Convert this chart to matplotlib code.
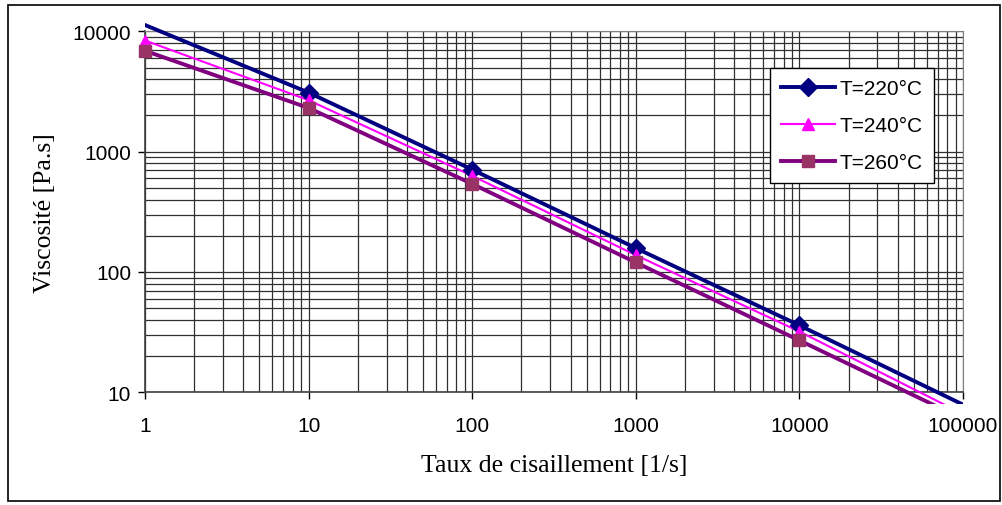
import numpy as np
import matplotlib
matplotlib.use('Agg')
import matplotlib.pyplot as plt
from matplotlib.patches import Rectangle
from matplotlib.ticker import FixedLocator, LogLocator, NullFormatter

# data
shear = [1, 10, 100, 1000, 10000, 100000]
visc_220 = [11300, 3100, 710, 158, 36, 7.9]
visc_240 = [8400, 2680, 630, 138, 32, 6.6]
visc_260 = [6900, 2310, 540, 120, 27, 6.0]
y_max = 10000
x_marker_max = 10000

series = [
    ('T=220°C', visc_220, '#000080', '#000080', 'D', 9, 2.8),
    ('T=240°C', visc_240, '#FF00FF', '#FF00FF', '^', 9, 1.5),
    ('T=260°C', visc_260, '#800080', '#993366', 's', 8, 2.8),
]

plt.rcParams['font.family'] = ['Liberation Sans', 'DejaVu Sans']

fig = plt.figure(figsize=(10.02, 5.06), dpi=100)
ax = fig.add_axes([145 / 1002, 1 - 393.3 / 506, 818 / 1002, 360.9 / 506])
ax.set_xscale('log')
ax.set_yscale('log')
ax.set_xlim(1, 100000)
ax.set_ylim(10, 10000)

clip = Rectangle((0, -0.033), 1.0, 1.1, transform=ax.transAxes, visible=False)
ax.add_patch(clip)

for label, vals, lc, mc, mk, ms, lw in series:
    ln, = ax.plot(shear, vals, color=lc, lw=lw, zorder=3)
    ln.set_clip_path(clip)
    xs = [x for x, v in zip(shear, vals) if v <= y_max and x <= x_marker_max]
    vs = [v for x, v in zip(shear, vals) if v <= y_max and x <= x_marker_max]
    ax.plot(xs, vs, linestyle='none', marker=mk, ms=ms, color=mc,
            markeredgecolor=mc, zorder=4, clip_on=False)
    ax.plot([], [], color=lc, lw=lw, marker=mk, ms=ms, markerfacecolor=mc,
            markeredgecolor=mc, label=label)

ax.xaxis.set_major_locator(FixedLocator([1, 10, 100, 1000, 10000, 100000]))
ax.yaxis.set_major_locator(FixedLocator([10, 100, 1000, 10000]))
ax.xaxis.set_minor_locator(LogLocator(base=10, subs=np.arange(2, 10), numticks=20))
ax.yaxis.set_minor_locator(LogLocator(base=10, subs=np.arange(2, 10), numticks=20))
ax.xaxis.set_minor_formatter(NullFormatter())
ax.yaxis.set_minor_formatter(NullFormatter())
ax.set_xticklabels(['1', '10', '100', '1000', '10000', '100000'])
ax.set_yticklabels(['10', '100', '1000', '10000'])

ax.grid(True, which='both', color='#303030', lw=0.9)
ax.tick_params(which='major', direction='out', length=5, width=1, labelsize=15, pad=12)
ax.tick_params(axis='y', which='major', pad=5)
ax.tick_params(which='minor', length=0)
for side in ['top', 'right']:
    ax.spines[side].set_color('#808080')
for side in ['left', 'bottom']:
    ax.spines[side].set_color('#404040')
    ax.spines[side].set_linewidth(1.2)

ax.set_xlabel('Taux de cisaillement [1/s]', family=['Liberation Serif'], fontsize=18.5, labelpad=14)
ax.set_ylabel('Viscosité [Pa.s]', family=['Liberation Serif'], fontsize=18.5, labelpad=12)

leg = ax.legend(loc='upper right', bbox_to_anchor=(934 / 1002, 1 - 69 / 506),
                bbox_transform=fig.transFigure, fontsize=15, frameon=True,
                fancybox=False, edgecolor='black', framealpha=1, borderaxespad=0,
                handlelength=2.6, labelspacing=0.85, borderpad=0.55, handletextpad=0.2)
leg.get_frame().set_linewidth(1.0)

fig.patches.append(Rectangle((8 / 1002, 1 - 502 / 506), 992 / 1002, 496 / 506,
                             transform=fig.transFigure, fill=False,
                             edgecolor='black', lw=1.2))

plt.savefig('out.png', dpi=100)
